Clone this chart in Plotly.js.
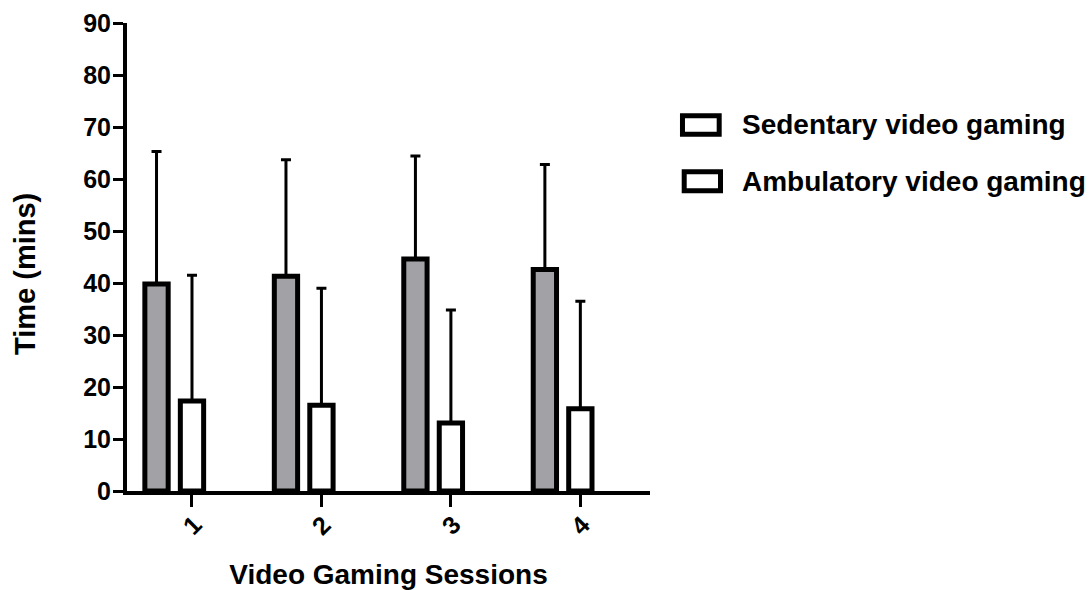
<!DOCTYPE html>
<html>
<head>
<meta charset="utf-8">
<script src="https://cdn.plot.ly/plotly-3.0.1.min.js"></script>
<style>
  html, body { margin: 0; padding: 0; background: #ffffff; }
  #chart { width: 1090px; height: 590px; }
</style>
</head>
<body>
<div id="chart"></div>
<script>
// ---- data ----
const sessions = [1, 2, 3, 4];
const sessionLabels = ['1', '2', '3', '4'];
const sedentaryMean = [39.8, 41.3, 44.6, 42.6];
const sedentarySD = [25.5, 22.4, 19.8, 20.2];
const ambulatoryMean = [17.3, 16.5, 13.1, 15.8];
const ambulatorySD = [24.2, 22.5, 21.7, 20.7];
const seriesNames = ['Sedentary video gaming', 'Ambulatory video gaming'];
const yTicks = [0, 10, 20, 30, 40, 50, 60, 70, 80, 90];
const xTitle = 'Video Gaming Sessions';
const yTitle = 'Time (mins)';

const FONT = 'Liberation Sans, Arial, Helvetica, sans-serif';

const sedentary = {
  type: 'bar',
  name: seriesNames[0],
  x: sessions,
  y: sedentaryMean,
  width: 0.18,
  offset: -0.364,
  marker: { color: '#a2a1a6', line: { color: '#000000', width: 5 } },
  error_y: {
    type: 'data', symmetric: false,
    array: sedentarySD, arrayminus: sedentarySD.map(() => 0),
    color: '#000000', thickness: 3, width: 5
  },
  showlegend: false,
  hoverinfo: 'x+y'
};

const ambulatory = {
  type: 'bar',
  name: seriesNames[1],
  x: sessions,
  y: ambulatoryMean,
  width: 0.18,
  offset: -0.09,
  marker: { color: '#ffffff', line: { color: '#000000', width: 5 } },
  error_y: {
    type: 'data', symmetric: false,
    array: ambulatorySD, arrayminus: ambulatorySD.map(() => 0),
    color: '#000000', thickness: 3, width: 5
  },
  showlegend: false,
  hoverinfo: 'x+y'
};

// rotated category labels, centred under each tick
const tickAnnotations = sessions.map((s, i) => ({
  x: s, xref: 'x', y: 0, yref: 'paper', yshift: -34,
  text: sessionLabels[i], showarrow: false, textangle: -45,
  xanchor: 'center', yanchor: 'middle',
  font: { family: FONT, size: 25, color: '#000000', weight: 'bold' }
}));

// y axis title, placed as in the reference
const titleAnnotations = [{
  x: 0, xref: 'paper', xshift: -102, y: 0.4637, yref: 'paper',
  text: yTitle, showarrow: false, textangle: -90,
  xanchor: 'center', yanchor: 'middle',
  font: { family: FONT, size: 29, color: '#000000', weight: 'bold' }
}];

// custom legend (open boxes, as in the reference)
const legendY = [0.7821, 0.6609];
const legendShapes = [
  { type: 'rect', xref: 'paper', yref: 'paper', x0: 1.0621, x1: 1.1323, y0: 0.7624, y1: 0.8017,
    line: { color: '#000000', width: 5 }, fillcolor: '#ffffff' },
  { type: 'rect', xref: 'paper', yref: 'paper', x0: 1.0654, x1: 1.1348, y0: 0.6415, y1: 0.6820,
    line: { color: '#000000', width: 5 }, fillcolor: '#ffffff' }
];
const legendAnnotations = seriesNames.map((n, i) => ({
  x: 1.172, xref: 'paper', y: legendY[i], yref: 'paper',
  text: n, showarrow: false, xanchor: 'left', yanchor: 'middle',
  font: { family: FONT, size: 28, color: '#000000', weight: 'bold' }
}));

const layout = {
  width: 1090, height: 590,
  margin: { l: 127, r: 440, t: 23, b: 99 },
  paper_bgcolor: '#ffffff', plot_bgcolor: '#ffffff',
  barmode: 'overlay',
  showlegend: false,
  font: { family: FONT, color: '#000000' },
  xaxis: {
    range: [0.498, 4.538],
    tickmode: 'array', tickvals: sessions, ticktext: sessionLabels,
    showticklabels: false,
    ticks: 'outside', ticklen: 12, tickwidth: 3, tickcolor: '#000000',
    showline: true, linecolor: '#000000', linewidth: 4,
    showgrid: false, zeroline: false, fixedrange: true,
    title: { text: xTitle, standoff: 62,
             font: { family: FONT, size: 28, color: '#000000', weight: 'bold' } }
  },
  yaxis: {
    range: [0, 90],
    tickmode: 'array', tickvals: yTicks,
    ticks: 'outside', ticklen: 10, tickwidth: 3, tickcolor: '#000000',
    ticklabelstandoff: -3,
    showline: true, linecolor: '#000000', linewidth: 4,
    showgrid: false, zeroline: false, fixedrange: true,
    tickfont: { family: FONT, size: 25, color: '#000000', weight: 'bold' }
  },
  shapes: legendShapes,
  annotations: tickAnnotations.concat(titleAnnotations, legendAnnotations)
};

Plotly.newPlot('chart', [sedentary, ambulatory], layout, { displayModeBar: false, staticPlot: true });
</script>
</body>
</html>
